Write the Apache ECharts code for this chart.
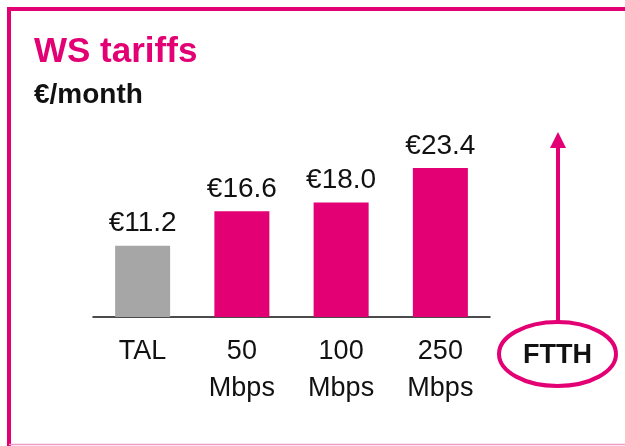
<!DOCTYPE html>
<html>
<head>
<meta charset="utf-8">
<script src="https://cdn.jsdelivr.net/npm/echarts@6/dist/echarts.min.js"></script>
<style>
html,body{margin:0;padding:0;background:#fff;}
#chart{width:625px;height:446px;}
</style>
</head>
<body>
<div id="chart"></div>
<script>
const categories = ['TAL', '50\nMbps', '100\nMbps', '250\nMbps'];
const values = [11.2, 16.6, 18.0, 23.4];
const barColors = ['#A6A6A6', '#E20074', '#E20074', '#E20074'];
const titleText = 'WS tariffs';
const subtitleText = '€/month';
const calloutText = 'FTTH';

const MAGENTA = '#E20074';
const FONT = '"Liberation Sans", Arial, sans-serif';

const chart = echarts.init(document.getElementById('chart'), null, {renderer: 'canvas'});
chart.setOption({
  animation: false,
  backgroundColor: '#fff',
  grid: {left: 93, right: 135, top: 126, bottom: 129, containLabel: false},
  xAxis: {
    type: 'category',
    data: categories,
    axisLine: {show: true, lineStyle: {color: '#111', width: 1.5}},
    axisTick: {show: false},
    axisLabel: {
      color: '#111', fontSize: 27, fontFamily: FONT, lineHeight: 37,
      margin: 16, interval: 0
    }
  },
  yAxis: {
    type: 'value', min: 0, max: 30,
    show: false,
    splitLine: {show: false}
  },
  series: [{
    type: 'bar',
    barWidth: 55,
    data: values.map((v, i) => ({value: v, itemStyle: {color: barColors[i]}})),
    label: {
      show: true, position: 'top', distance: 8,
      color: '#111', fontSize: 28, fontFamily: FONT,
      formatter: p => '€' + p.value.toFixed(1)
    }
  }],
  graphic: [
    // frame
    {type: 'polyline', shape: {points: [[9, 446], [9, 9], [630, 9]]},
     style: {stroke: MAGENTA, lineWidth: 4, fill: null}},
    {type: 'line', shape: {x1: 9, y1: 444.5, x2: 625, y2: 444.5},
     style: {stroke: '#F09AC4', lineWidth: 1.5}},
    // titles
    {type: 'text', left: 34, top: 35,
     style: {text: titleText, fill: MAGENTA, font: 'bold 35px ' + FONT}},
    {type: 'text', left: 34, top: 81,
     style: {text: subtitleText, fill: '#111', font: 'bold 28px ' + FONT}},
    // arrow
    {type: 'line', shape: {x1: 558, y1: 321, x2: 558, y2: 146},
     style: {stroke: MAGENTA, lineWidth: 4}},
    {type: 'polygon', shape: {points: [[558, 132], [550, 148], [566, 148]]},
     style: {fill: MAGENTA}},
    // ellipse
    {type: 'ellipse', shape: {cx: 557.5, cy: 354, rx: 58.5, ry: 32},
     style: {stroke: MAGENTA, lineWidth: 4, fill: '#fff'}},
    {type: 'text', x: 557.5, y: 356,
     style: {text: calloutText, fill: '#111', font: 'bold 27px ' + FONT,
             align: 'center', verticalAlign: 'middle'}}
  ]
});
</script>
</body>
</html>
